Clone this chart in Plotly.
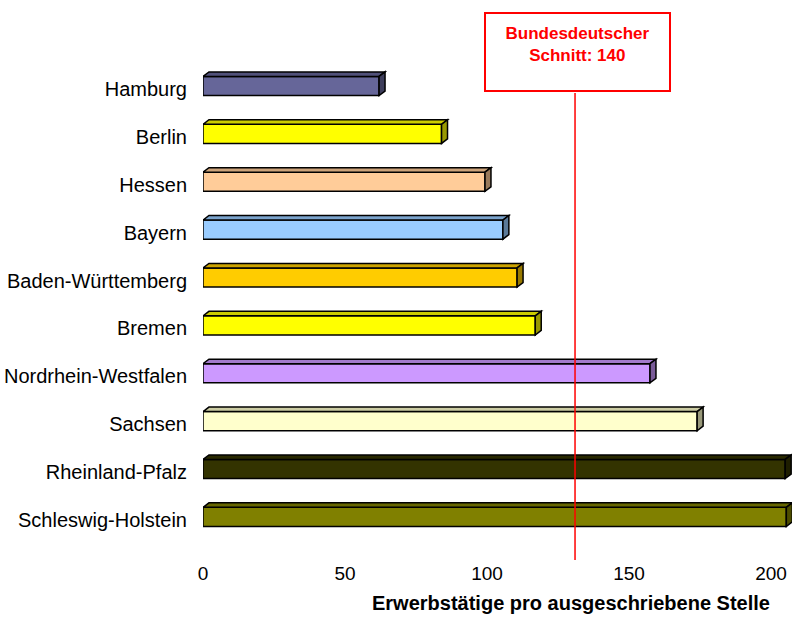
import plotly.graph_objects as go

states = ["Hamburg", "Berlin", "Hessen", "Bayern", "Baden-Württemberg", "Bremen",
          "Nordrhein-Westfalen", "Sachsen", "Rheinland-Pfalz", "Schleswig-Holstein"]
values = [62, 84, 99.3, 105.6, 110.6, 117, 157.4, 174, 205, 205.4]
colors = ["#666699", "#FFFF00", "#FFCC99", "#99CCFF", "#FFCC00", "#FFFF00",
          "#CC99FF", "#FFFFCC", "#333300", "#808000"]
average_value = 131
average_label = "<b>Bundesdeutscher<br>Schnitt: 140</b>"
x_ticks = [0, 50, 100, 150, 200]
x_title = "<b>Erwerbstätige pro ausgeschriebene Stelle</b>"

n = len(states)
ypos = [n - 1 - i for i in range(n)]  # Hamburg on top

def shade(hexcol, f):
    h = hexcol.lstrip("#")
    r, g, b = (int(h[i:i + 2], 16) for i in (0, 2, 4))
    return "rgb(%d,%d,%d)" % (int(r * f), int(g * f), int(b * f))

BW = 0.4      # bar thickness in category units
DX = 2.1      # depth offset in x data units
DY = 0.095    # depth offset in y units

fig = go.Figure()
fig.add_trace(go.Bar(
    x=values, y=ypos, orientation="h", width=BW,
    marker=dict(color=colors, line=dict(color="black", width=1.5)),
    hovertext=states, showlegend=False))

shapes = []
for v, y, c in zip(values, ypos, colors):
    top = y + BW / 2
    bot = y - BW / 2
    shapes.append(dict(type="path", xref="x", yref="y",
                       path=f"M 0 {top} L {DX} {top + DY} L {v + DX} {top + DY} L {v} {top} Z",
                       fillcolor=shade(c, 0.8), line=dict(color="black", width=1.5), layer="above"))
    shapes.append(dict(type="path", xref="x", yref="y",
                       path=f"M {v} {top} L {v + DX} {top + DY} L {v + DX} {bot + DY} L {v} {bot} Z",
                       fillcolor=shade(c, 0.6), line=dict(color="black", width=1.5), layer="above"))

PLOT_TOP, PLOT_BOTTOM = 30, 560
PH = PLOT_BOTTOM - PLOT_TOP
def py(pix):
    return (PLOT_BOTTOM - pix) / PH

shapes.append(dict(type="line", xref="x", yref="paper", x0=average_value, x1=average_value,
                   y0=0, y1=py(93), line=dict(color="#FF0000", width=1.5)))

fig.update_layout(
    width=792, height=624,
    margin=dict(l=203, r=0, t=PLOT_TOP, b=624 - PLOT_BOTTOM),
    paper_bgcolor="white", plot_bgcolor="white",
    font=dict(family="Liberation Sans, Arial, sans-serif", size=19, color="black"),
    shapes=shapes,
    xaxis=dict(range=[0, 207.4], tickvals=x_ticks, showgrid=False, zeroline=False,
               showline=False, ticks="", tickfont=dict(size=19), automargin=False),
    yaxis=dict(range=[-0.9, 10.17], tickvals=ypos, ticktext=states, showgrid=False,
               zeroline=False, showline=False, ticks="", tickfont=dict(size=20),
               ticklabelstandoff=15, ticklabelshift=3, automargin=False),
    annotations=[
        dict(x=average_value + 0.8, y=py(52), xref="x", yref="paper", text=average_label,
             showarrow=False, font=dict(color="#FF0000", size=17),
             bordercolor="#FF0000", borderwidth=2, borderpad=10, bgcolor="white",
             width=163, height=56, align="center", valign="top",
             xanchor="center", yanchor="middle"),
        dict(x=(571 - 203) / (792 - 203), y=py(603), xref="paper", yref="paper",
             text=x_title, showarrow=False, font=dict(size=20),
             xanchor="center", yanchor="middle"),
    ],
)

fig.write_html("out.html")
